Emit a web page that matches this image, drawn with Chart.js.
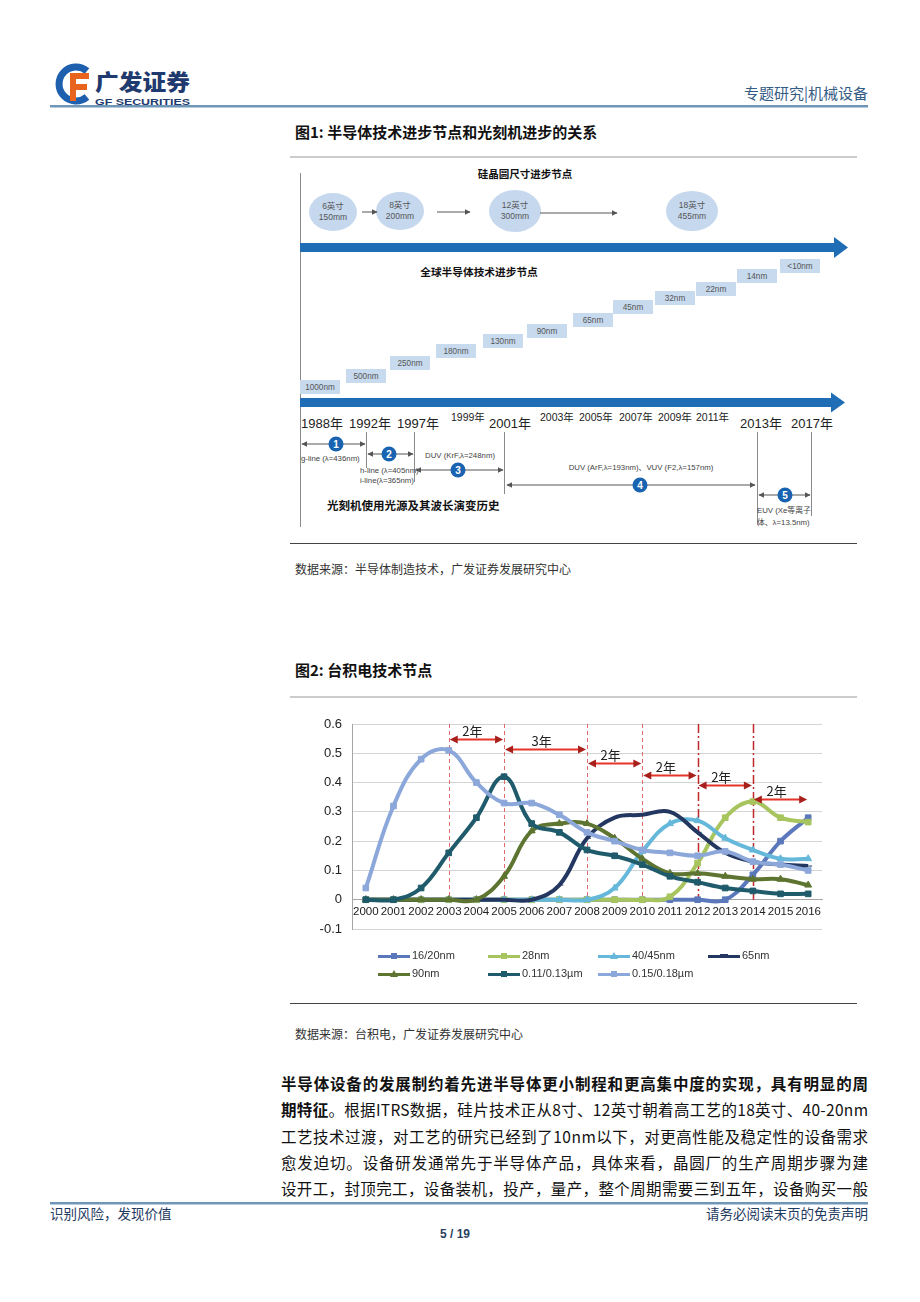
<!DOCTYPE html>
<html><head><meta charset="utf-8">
<script src="https://cdn.jsdelivr.net/npm/chart.js@4.4.0/dist/chart.umd.min.js"></script>
<style>
html,body{margin:0;padding:0;background:#fff;}
body{width:920px;height:1302px;position:relative;overflow:hidden;font-family:"Noto Sans CJK SC","Noto Sans",sans-serif;}
#page{position:absolute;left:0;top:0;}
#chartBox{position:absolute;left:290px;top:700px;width:570px;height:250px;}
.lg{position:absolute;font:11px "Liberation Sans",Arial,sans-serif;color:#333;white-space:nowrap;}
.lgl{position:absolute;height:3px;width:32px;}
.lgm{position:absolute;}
</style></head>
<body>
<svg id="page" width="920" height="1302" xmlns="http://www.w3.org/2000/svg" font-family="Noto Sans CJK SC, Noto Sans, sans-serif">
  <defs>
    <marker id="ah" viewBox="0 0 10 10" refX="9" refY="5" markerWidth="6" markerHeight="6" orient="auto-start-reverse">
      <path d="M0,0 L10,5 L0,10 z" fill="#555"/>
    </marker>
  </defs>
  <!-- logo -->
  <path d="M87,71 A17,17 0 1,0 87,97" stroke="#1E5FAE" stroke-width="7" fill="none"/>
  <path d="M70,73 h19 v6 h-13 v5 h11 v6 h-11 v11 h-6 z" fill="#E8641E"/>
  <text x="95" y="90" font-size="22" font-weight="900" fill="#1F3A6E" textLength="95" lengthAdjust="spacingAndGlyphs">广发证券</text>
  <text x="95" y="104.5" font-size="8.5" font-weight="bold" font-family="Liberation Sans, Arial" fill="#1F3A6E" textLength="95" lengthAdjust="spacingAndGlyphs">GF SECURITIES</text>
  <text x="868" y="98.5" font-size="15" fill="#355C85" text-anchor="end">专题研究|机械设备</text>
  <rect x="50" y="105" width="818" height="2.5" fill="#6F96B8"/>

  <!-- figure 1 title -->
  <text x="295" y="137.5" font-size="15" font-weight="bold" fill="#111">图1:  半导体技术进步节点和光刻机进步的关系</text>
  <rect x="290" y="156.5" width="567" height="1" fill="#9a9a9a"/>

  <!-- figure 1 diagram -->
  <line x1="300.5" y1="173" x2="300.5" y2="527" stroke="#8a8a8a" stroke-width="1"/>
  <text x="525" y="178" font-size="10.5" font-weight="bold" fill="#111" text-anchor="middle">硅晶圆尺寸进步节点</text>
  <g fill="#C5D8EE">
    <ellipse cx="333" cy="212" rx="24" ry="19"/>
    <ellipse cx="400" cy="211" rx="24" ry="19"/>
    <ellipse cx="515" cy="211" rx="26" ry="21"/>
    <ellipse cx="692" cy="211" rx="26" ry="20"/>
  </g>
  <g font-size="8.5" fill="#555" text-anchor="middle" font-family="Liberation Sans, Noto Sans CJK SC">
    <text x="333" y="209">6英寸</text><text x="333" y="220">150mm</text>
    <text x="400" y="208">8英寸</text><text x="400" y="219">200mm</text>
    <text x="515" y="208">12英寸</text><text x="515" y="219">300mm</text>
    <text x="692" y="208">18英寸</text><text x="692" y="219">455mm</text>
  </g>
  <g stroke="#555" stroke-width="1" marker-end="url(#ah)">
    <line x1="362" y1="212" x2="377" y2="212"/>
    <line x1="437" y1="212" x2="470" y2="212"/>
    <line x1="540" y1="213" x2="617" y2="213"/>
  </g>
  <rect x="300" y="243" width="535" height="9" fill="#1F6DB4"/>
  <path d="M834,237 L848,247.5 L834,258 z" fill="#1F6DB4"/>
  <text x="479" y="276" font-size="10.7" font-weight="bold" fill="#111" text-anchor="middle">全球半导体技术进步节点</text>
  <g id="nodes"></g>
  <rect x="300" y="398" width="532" height="9" fill="#1F6DB4"/>
  <path d="M831,392.5 L845,402.5 L831,412.5 z" fill="#1F6DB4"/>
  <g font-family="Liberation Sans, Arial, Noto Sans CJK SC" fill="#222">
    <text x="301" y="428" font-size="13">1988年</text>
    <text x="349" y="428" font-size="13">1992年</text>
    <text x="397" y="428" font-size="13">1997年</text>
    <text x="451" y="421" font-size="10.5">1999年</text>
    <text x="489" y="428" font-size="13">2001年</text>
    <text x="540" y="421" font-size="10.5">2003年</text>
    <text x="579" y="421" font-size="10.5">2005年</text>
    <text x="619" y="421" font-size="10.5">2007年</text>
    <text x="658" y="421" font-size="10.5">2009年</text>
    <text x="696" y="421" font-size="10.5">2011年</text>
    <text x="740" y="428" font-size="13">2013年</text>
    <text x="791" y="428" font-size="13">2017年</text>
  </g>
  <g stroke="#8a8a8a" stroke-width="1">
    <line x1="366.5" y1="432" x2="366.5" y2="468"/>
    <line x1="414.5" y1="432" x2="414.5" y2="482"/>
    <line x1="504.5" y1="432" x2="504.5" y2="494"/>
    <line x1="757.5" y1="432" x2="757.5" y2="525"/>
    <line x1="811.5" y1="432" x2="811.5" y2="516"/>
  </g>
  <g stroke="#555" stroke-width="1" marker-start="url(#ah)" marker-end="url(#ah)">
    <line x1="302" y1="444" x2="365" y2="444"/>
    <line x1="368" y1="454" x2="413" y2="454"/>
    <line x1="416" y1="470" x2="503" y2="470"/>
    <line x1="507" y1="485" x2="755" y2="485"/>
    <line x1="759" y1="495" x2="810" y2="495"/>
  </g>
  <g fill="#1A63B0">
    <circle cx="336" cy="444" r="7.5"/>
    <circle cx="389" cy="454" r="7.5"/>
    <circle cx="458" cy="470" r="7.5"/>
    <circle cx="640" cy="485" r="7.5"/>
    <circle cx="785" cy="495" r="7.5"/>
  </g>
  <g fill="#fff" font-size="10" font-weight="bold" text-anchor="middle" font-family="Liberation Sans, Arial">
    <text x="336" y="447.5">1</text><text x="389" y="457.5">2</text><text x="458" y="473.5">3</text><text x="640" y="488.5">4</text><text x="785" y="498.5">5</text>
  </g>
  <g font-size="7.8" fill="#444" font-family="Liberation Sans, Arial, Noto Sans CJK SC">
    <text x="301" y="461">g-line (λ=436nm)</text>
    <text x="360" y="473">h-line (λ=405nm)</text>
    <text x="360" y="483">i-line(λ=365nm)</text>
    <text x="425" y="458">DUV (KrF,λ=248nm)</text>
    <text x="641" y="470" text-anchor="middle">DUV (ArF,λ=193nm)、VUV (F2,λ=157nm)</text>
    <text x="757" y="513">EUV (Xe等离子</text>
    <text x="757" y="525">体、λ=13.5nm)</text>
  </g>
  <text x="327" y="510" font-size="11.5" font-weight="bold" fill="#111">光刻机使用光源及其波长演变历史</text>
  <rect x="290" y="543" width="567" height="1" fill="#444"/>
  <text x="295" y="573.5" font-size="12" fill="#333">数据来源：半导体制造技术，广发证券发展研究中心</text>

  <!-- figure 2 title -->
  <text x="295" y="675.5" font-size="15" font-weight="bold" fill="#111">图2:  台积电技术节点</text>
  <rect x="290" y="696.5" width="567" height="1" fill="#9a9a9a"/>
  <rect x="290" y="1003" width="567" height="1" fill="#444"/>
  <text x="295" y="1038.5" font-size="12" fill="#333">数据来源：台积电，广发证券发展研究中心</text>

  <!-- paragraph -->
  <g font-size="15.5" fill="#111">
    <text x="281" y="1090" font-weight="bold" textLength="587" lengthAdjust="spacing">半导体设备的发展制约着先进半导体更小制程和更高集中度的实现，具有明显的周</text>
    <text x="281" y="1116" textLength="587" lengthAdjust="spacing"><tspan font-weight="bold">期特征</tspan>。根据ITRS数据，硅片技术正从8寸、12英寸朝着高工艺的18英寸、40-20nm</text>
    <text x="281" y="1143" textLength="587" lengthAdjust="spacing">工艺技术过渡，对工艺的研究已经到了10nm以下，对更高性能及稳定性的设备需求</text>
    <text x="281" y="1169" textLength="587" lengthAdjust="spacing">愈发迫切。设备研发通常先于半导体产品，具体来看，晶圆厂的生产周期步骤为建</text>
    <text x="281" y="1195" textLength="587" lengthAdjust="spacing">设开工，封顶完工，设备装机，投产，量产，整个周期需要三到五年，设备购买一般</text>
  </g>

  <!-- footer -->
  <rect x="50" y="1202" width="818" height="2.5" fill="#6F96B8"/>
  <text x="50" y="1219" font-size="13.5" fill="#1F3A5F">识别风险，发现价值</text>
  <text x="868" y="1219" font-size="13.5" fill="#1F3A5F" text-anchor="end">请务必阅读末页的免责声明</text>
  <text x="455" y="1238" font-size="12" font-weight="bold" fill="#2B3F5F" text-anchor="middle" font-family="Liberation Sans, Arial">5 / 19</text>
</svg>

<div id="chartBox"><canvas id="c"></canvas></div>
<div id="legend"></div>

<script>
// ---------- Figure 1 node labels ----------
const nodeLabels = ['1000nm','500nm','250nm','180nm','130nm','90nm','65nm','45nm','32nm','22nm','14nm','<10nm'];
(function(){
  const cx = [320,366,410,456,503,547,593,633,675,716,757,800];
  const cy = [387,376,363,351,341,331,320,307,298,289,276,266];
  const g = document.getElementById('nodes');
  const ns = 'http://www.w3.org/2000/svg';
  nodeLabels.forEach((t,i)=>{
    const r = document.createElementNS(ns,'rect');
    r.setAttribute('x', cx[i]-20); r.setAttribute('y', cy[i]-7);
    r.setAttribute('width', 40); r.setAttribute('height', 14);
    r.setAttribute('fill', '#C7DAEE'); g.appendChild(r);
    const tx = document.createElementNS(ns,'text');
    tx.setAttribute('x', cx[i]); tx.setAttribute('y', cy[i]+3);
    tx.setAttribute('text-anchor','middle'); tx.setAttribute('font-size','8.2');
    tx.setAttribute('fill','#555'); tx.setAttribute('font-family','Liberation Sans, Arial');
    tx.textContent = t; g.appendChild(tx);
  });
})();

// ---------- Figure 2 data ----------
const years = ['2000','2001','2002','2003','2004','2005','2006','2007','2008','2009','2010','2011','2012','2013','2014','2015','2016'];
const nm16_20 = [0,0,0,0,0,0,0,0,0,0,0,0,0,0,0.085,0.20,0.28];
const nm28    = [0,0,0,0,0,0,0,0,0,0,0,0.01,0.125,0.28,0.335,0.28,0.265];
const nm40_45 = [0,0,0,0,0,0,0,0,0,0.04,0.165,0.26,0.27,0.21,0.17,0.14,0.14];
const nm65    = [0,0,0,0,0,0,0,0.05,0.21,0.28,0.29,0.30,0.23,0.16,0.13,0.12,0.115];
const nm90    = [0,0,0,0,0,0.08,0.235,0.26,0.26,0.21,0.14,0.09,0.09,0.08,0.07,0.07,0.05];
const um011_013 = [0,0,0.04,0.16,0.28,0.42,0.26,0.23,0.17,0.15,0.12,0.08,0.06,0.04,0.03,0.02,0.02];
const um015_018 = [0.04,0.32,0.48,0.51,0.40,0.33,0.33,0.29,0.23,0.20,0.17,0.16,0.15,0.165,0.13,0.12,0.10];
const seriesNames = ['16/20nm','28nm','40/45nm','65nm','90nm','0.11/0.13µm','0.15/0.18µm'];
const yTicks = [-0.1,0,0.1,0.2,0.3,0.4,0.5,0.6];
// node-transition annotations
const markYears  = ['2003','2005','2008','2010','2012','2014'];
const spanFrom   = ['2003','2005','2008','2010','2012','2014'];
const spanTo     = ['2005','2008','2010','2012','2014','2016'];
const spanLevel  = [0.549,0.515,0.467,0.426,0.392,0.344];
const spanLabel  = ['2年','3年','2年','2年','2年','2年'];

const seriesData = [nm16_20,nm28,nm40_45,nm65,nm90,um011_013,um015_018];
const colors = ['#5A78BB','#A7C45E','#66B8DA','#243760','#5E7431','#1F5B6B','#8CA7D9'];
const pstyles = ['rect','rect','triangle','dash','triangle','rect','rect'];

const datasets = seriesData.map((d,i)=>({
  label: seriesNames[i],
  data: d,
  borderColor: colors[i],
  backgroundColor: colors[i],
  pointBackgroundColor: colors[i],
  pointBorderColor: colors[i],
  borderWidth: 4,
  pointStyle: pstyles[i],
  pointRadius: 4,
  pointBorderWidth: 1,
  tension: 0.4,
  order: 6 - i,
  fill: false
}));

const annot = {
  id: 'annot',
  beforeDatasetsDraw(chart){
    const {ctx, scales:{x,y}} = chart;
    ctx.save();
    markYears.forEach((yr,i)=>{
      const px = Math.round(x.getPixelForValue(years.indexOf(yr))) + 0.5;
      ctx.beginPath();
      if (i < 4) { ctx.strokeStyle = '#E06A6A'; ctx.lineWidth = 1; ctx.setLineDash([4,3]); }
      else { ctx.strokeStyle = '#C0282A'; ctx.lineWidth = 1.5; ctx.setLineDash([9,3,2,3]); }
      ctx.moveTo(px, y.getPixelForValue(0.6));
      ctx.lineTo(px, y.getPixelForValue(0));
      ctx.stroke();
    });
    ctx.restore();
  },
  afterDatasetsDraw(chart){
    const {ctx, scales:{x,y}} = chart;
    ctx.save();
    spanFrom.forEach((f,i)=>{
      const x1 = x.getPixelForValue(years.indexOf(f)) + 1;
      const x2 = x.getPixelForValue(years.indexOf(spanTo[i])) - 1;
      const py = Math.round(y.getPixelForValue(spanLevel[i])) + 0.5;
      ctx.setLineDash([]);
      ctx.strokeStyle = '#E5342B'; ctx.lineWidth = 2;
      ctx.beginPath(); ctx.moveTo(x1+5, py); ctx.lineTo(x2-5, py); ctx.stroke();
      ctx.fillStyle = '#A8201C';
      [[x1,1],[x2,-1]].forEach(([xx,dir])=>{
        ctx.beginPath();
        ctx.moveTo(xx, py);
        ctx.lineTo(xx + dir*8, py - 4);
        ctx.lineTo(xx + dir*8, py + 4);
        ctx.closePath(); ctx.fill();
      });
      ctx.fillStyle = '#222';
      ctx.font = '13px "Noto Sans CJK SC", "Liberation Sans", sans-serif';
      ctx.textAlign = 'center'; ctx.textBaseline = 'alphabetic';
      ctx.fillText(spanLabel[i], (x1+x2)/2 - 4, py - 4);
    });
    ctx.restore();
  }
};

new Chart(document.getElementById('c'), {
  type: 'line',
  data: { labels: years, datasets },
  plugins: [annot],
  options: {
    responsive: true,
    maintainAspectRatio: false,
    animation: false,
    layout: { padding: { left: 0, right: 38, top: 24, bottom: 21 } },
    plugins: { legend: { display: false }, tooltip: { enabled: false } },
    scales: {
      x: {
        position: { y: 0 },
        offset: true,
        grid: { display: false, drawTicks: false, offset: true },
        border: { display: true, color: '#A6A6A6', width: 1 },
        ticks: { color: '#222', font: { size: 11.5, family: '"Liberation Sans", Arial, sans-serif' }, padding: 5, maxRotation: 0, autoSkip: false }
      },
      y: {
        min: -0.1, max: 0.6,
        afterFit(s){ s.width = 62; },
        afterBuildTicks(s){ s.ticks = yTicks.map(v=>({value:v})); },
        grid: { color: '#D4D4D4', drawTicks: false },
        border: { display: true, color: '#A6A6A6' },
        ticks: { color: '#222', padding: 10, font: { size: 13, family: '"Liberation Sans", Arial, sans-serif' },
                 callback: v => String(Math.round(v*10)/10) }
      }
    }
  }
});

// ---------- legend (HTML) ----------
(function(){
  const colX = [378,488,598,708];
  const rowY = [956,974];
  seriesNames.forEach((n,i)=>{
    const X = colX[i%4], Y = rowY[Math.floor(i/4)];
    const l = document.createElement('div'); l.className='lgl';
    l.style.left = X+'px'; l.style.top = (Y-1.5)+'px'; l.style.background = colors[i];
    document.body.appendChild(l);
    const m = document.createElement('div'); m.className='lgm';
    if (pstyles[i]==='triangle') {
      m.style.left=(X+12)+'px'; m.style.top=(Y-4)+'px'; m.style.width='0'; m.style.height='0';
      m.style.borderLeft='4px solid transparent'; m.style.borderRight='4px solid transparent';
      m.style.borderBottom='7px solid '+colors[i];
    } else if (pstyles[i]==='dash') {
      m.style.left=(X+12)+'px'; m.style.top=(Y-2)+'px'; m.style.width='8px'; m.style.height='4px'; m.style.background=colors[i];
    } else {
      m.style.left=(X+13)+'px'; m.style.top=(Y-3)+'px'; m.style.width='6px'; m.style.height='6px'; m.style.background=colors[i];
    }
    document.body.appendChild(m);
    const t = document.createElement('div'); t.className='lg';
    t.textContent = n; t.style.left=(X+34)+'px'; t.style.top=(Y-7)+'px';
    document.body.appendChild(t);
  });
})();
</script>
</body></html>
